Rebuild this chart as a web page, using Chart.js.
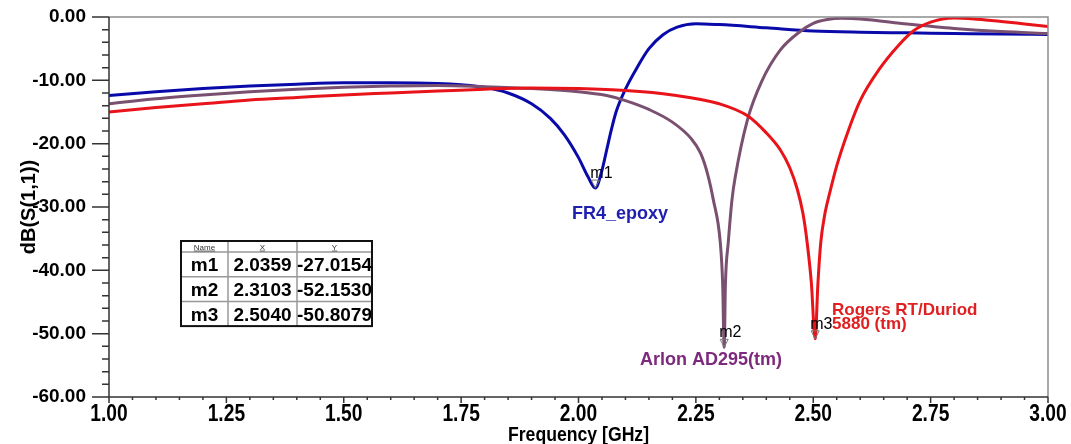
<!DOCTYPE html>
<html>
<head>
<meta charset="utf-8">
<script src="https://cdn.jsdelivr.net/npm/chart.js@4.4.0/dist/chart.umd.min.js"></script>
<style>
html,body{margin:0;padding:0;background:#fff}
</style>
</head>
<body>
<canvas id="Chart1" width="1071" height="444"></canvas>
<script>
// S11 curves
var fr4Freq = [1.00,1.10,1.20,1.30,1.40,1.50,1.60,1.70,1.75,1.80,1.85,1.90,1.94,1.97,2.00,2.02,2.0359,2.05,2.06,2.07,2.08,2.10,2.12,2.15,2.18,2.21,2.25,2.30,2.40,2.50,2.60,2.70,2.80,2.90,3.00];
var fr4DB   = [-12.4,-11.8,-11.3,-10.9,-10.6,-10.4,-10.4,-10.5,-10.7,-11.1,-12.0,-13.7,-16.0,-18.6,-22.2,-25.2,-27.0154,-24.2,-21.0,-17.8,-15.0,-11.4,-8.6,-5.0,-2.8,-1.6,-1.05,-1.2,-1.7,-2.2,-2.4,-2.5,-2.6,-2.7,-2.75];

var arlonFreq = [1.00,1.10,1.20,1.30,1.40,1.50,1.60,1.70,1.80,1.90,2.00,2.06,2.10,2.15,2.20,2.24,2.26,2.275,2.287,2.302,2.307,2.3103,2.313,2.319,2.327,2.334,2.36,2.39,2.43,2.47,2.50,2.53,2.56,2.60,2.70,2.80,2.90,3.00];
var arlonDB   = [-13.7,-12.9,-12.3,-11.8,-11.4,-11.1,-10.9,-10.8,-11.0,-11.3,-11.8,-12.4,-13.2,-14.6,-16.6,-19.2,-21.5,-24.8,-28.8,-35.6,-42.0,-52.1530,-42.0,-35.6,-28.8,-25.2,-16.2,-10.2,-5.2,-2.4,-1.0,-0.4,-0.2,-0.3,-1.1,-1.8,-2.3,-2.6];

var rogersFreq = [1.00,1.10,1.20,1.30,1.40,1.50,1.60,1.70,1.80,1.90,2.00,2.10,2.20,2.30,2.36,2.40,2.43,2.45,2.466,2.478,2.487,2.496,2.5040,2.510,2.516,2.525,2.536,2.55,2.572,2.60,2.643,2.68,2.713,2.75,2.80,2.85,2.90,2.95,3.00];
var rogersDB   = [-15.0,-14.3,-13.7,-13.1,-12.7,-12.3,-12.0,-11.7,-11.4,-11.2,-11.3,-11.6,-12.3,-13.7,-15.6,-18.3,-21.0,-23.8,-27.2,-31.0,-35.6,-42.0,-50.8079,-42.0,-35.6,-31.0,-27.5,-23.5,-18.5,-13.2,-8.0,-4.6,-2.2,-0.8,-0.15,-0.35,-0.7,-1.1,-1.5];

var markerNames = ["m1","m2","m3"];
var markerX = [2.0359, 2.3103, 2.5040];
var markerY = [-27.0154, -52.1530, -50.8079];

var xMin = 1.00, xMax = 3.00, xStep = 0.25;
var yMin = -60, yMax = 0, yStep = 10;

function pts(xs, ys){
    return xs.map(function(v,i){ return {x:v, y:ys[i]}; });
}

var arial = "'Liberation Sans', Arial, sans-serif";

// condensed text: squeeze normal Arial bold horizontally
function narrowText(ctx, txt, px, py, size, sx){
    ctx.save();
    ctx.font = 'bold ' + size + 'px ' + arial;
    ctx.translate(px, py);
    ctx.scale(sx, 1);
    ctx.fillText(txt, 0, 0);
    ctx.restore();
}

var decor = {
    id: 'decor',
    afterDraw: function(chart){
        var ctx = chart.ctx, a = chart.chartArea, x = chart.scales.x, y = chart.scales.y;
        ctx.save();
        // frame
        ctx.lineWidth = 1.5;
        ctx.strokeStyle = '#8c8c8c';
        ctx.beginPath();
        ctx.moveTo(a.left, a.top); ctx.lineTo(a.right, a.top); ctx.lineTo(a.right, a.bottom);
        ctx.stroke();
        ctx.strokeStyle = '#333';
        ctx.beginPath();
        ctx.moveTo(a.left, a.top); ctx.lineTo(a.left, a.bottom + 5);
        ctx.moveTo(a.left - 17, a.bottom); ctx.lineTo(a.right, a.bottom);
        // y ticks, minor every 2 dB
        for (var i = 0; i <= 30; i++) {
            var p = y.getPixelForValue(yMin + i * 2);
            ctx.moveTo(a.left - (i % 5 === 0 ? 17 : 7), p); ctx.lineTo(a.left, p);
        }
        // x ticks, minor every 0.05
        for (var j = 0; j <= 40; j++) {
            var px = x.getPixelForValue(xMin + j * 0.05);
            ctx.moveTo(px, a.bottom); ctx.lineTo(px, a.bottom + (j % 5 === 0 ? 6 : 3));
        }
        ctx.stroke();

        // x tick labels and title, condensed
        ctx.fillStyle = '#000';
        ctx.textAlign = 'center';
        ctx.textBaseline = 'alphabetic';
        x.ticks.forEach(function(t){
            narrowText(ctx, t.value.toFixed(2), x.getPixelForValue(t.value), a.bottom + 24, 24, 0.8);
        });
        narrowText(ctx, 'Frequency [GHz]', (a.left + a.right) / 2, 441, 21, 0.84);

        // markers
        ctx.font = '16px ' + arial;
        ctx.textAlign = 'left';
        for (var k = 0; k < markerNames.length; k++) {
            var mx = x.getPixelForValue(markerX[k]), my = y.getPixelForValue(markerY[k]);
            ctx.strokeStyle = '#777'; ctx.lineWidth = 1;
            ctx.beginPath();
            ctx.moveTo(mx, my); ctx.lineTo(mx - 4, my - 8); ctx.lineTo(mx + 4, my - 8); ctx.closePath();
            ctx.stroke();
            ctx.fillStyle = '#000';
            ctx.fillText(markerNames[k], mx - 5, my - 10);
        }

        // series labels
        ctx.font = 'bold 18px ' + arial;
        ctx.fillStyle = '#2020b0';
        ctx.fillText('FR4_epoxy', x.getPixelForValue(1.986), y.getPixelForValue(-31.9));
        ctx.fillStyle = '#7d2a7d';
        ctx.fillText('Arlon AD295(tm)', x.getPixelForValue(2.131), y.getPixelForValue(-54.9));
        ctx.font = 'bold 17px ' + arial;
        ctx.fillStyle = '#e02020';
        ctx.fillText('Rogers RT/Duriod', x.getPixelForValue(2.540), y.getPixelForValue(-47.05));
        ctx.fillText('5880 (tm)', x.getPixelForValue(2.540), y.getPixelForValue(-49.3));

        // marker table
        var tx = 181, ty = 241, cw = [47, 69, 75], hh = 11, rh = 24.7;
        var tw = cw[0] + cw[1] + cw[2], th = hh + rh * 3;
        ctx.fillStyle = '#fff';
        ctx.fillRect(tx, ty, tw, th);
        ctx.strokeStyle = '#999'; ctx.lineWidth = 1.5;
        ctx.beginPath();
        ctx.moveTo(tx + cw[0], ty); ctx.lineTo(tx + cw[0], ty + th);
        ctx.moveTo(tx + cw[0] + cw[1], ty); ctx.lineTo(tx + cw[0] + cw[1], ty + th);
        for (var r = 0; r < 3; r++) {
            ctx.moveTo(tx, ty + hh + r * rh); ctx.lineTo(tx + tw, ty + hh + r * rh);
        }
        ctx.stroke();
        ctx.strokeStyle = '#111'; ctx.lineWidth = 2;
        ctx.strokeRect(tx, ty, tw, th);

        var heads = ['Name', 'X', 'Y'];
        var cx = [tx + cw[0] / 2, tx + cw[0] + cw[1] / 2, tx + cw[0] + cw[1] + cw[2] / 2];
        ctx.textAlign = 'center';
        ctx.font = '8px ' + arial;
        ctx.fillStyle = '#333';
        ctx.strokeStyle = '#333'; ctx.lineWidth = 0.7;
        for (var h = 0; h < 3; h++) {
            ctx.fillText(heads[h], cx[h], ty + 9);
            var w = ctx.measureText(heads[h]).width;
            ctx.beginPath(); ctx.moveTo(cx[h] - w / 2, ty + 10); ctx.lineTo(cx[h] + w / 2, ty + 10); ctx.stroke();
        }
        ctx.font = 'bold 19px ' + arial;
        ctx.fillStyle = '#000';
        for (var m = 0; m < markerNames.length; m++) {
            var by = ty + hh + m * rh + rh / 2 + 7;
            ctx.fillText(markerNames[m], cx[0], by);
            ctx.fillText(markerX[m].toFixed(4), cx[1], by);
            ctx.fillText(markerY[m].toFixed(4), cx[2], by);
        }
        ctx.restore();
    }
};

var ctxL = document.getElementById("Chart1").getContext('2d');
var myLineChart = new Chart(ctxL, {
    type: 'line',
    data: {
        datasets: [{
            label: "Rogers RT/Duriod 5880 (tm)",
            data: pts(rogersFreq, rogersDB),
            borderColor: '#e8141a',
            borderWidth: 3,
            pointRadius: 0,
            cubicInterpolationMode: 'monotone'
        }, {
            label: "Arlon AD295(tm)",
            data: pts(arlonFreq, arlonDB),
            borderColor: '#7a5070',
            borderWidth: 3,
            pointRadius: 0,
            cubicInterpolationMode: 'monotone'
        }, {
            label: "FR4_epoxy",
            data: pts(fr4Freq, fr4DB),
            borderColor: '#0a0aaa',
            borderWidth: 3,
            pointRadius: 0,
            cubicInterpolationMode: 'monotone'
        }]
    },
    options: {
        responsive: false,
        animation: false,
        devicePixelRatio: 1,
        layout: { padding: { top: 17, right: 23, left: 0, bottom: 0 } },
        plugins: { legend: { display: false }, tooltip: { enabled: false } },
        scales: {
            x: {
                type: 'linear', min: xMin, max: xMax,
                ticks: { stepSize: xStep, display: false },
                grid: { display: false, drawTicks: false },
                border: { display: false },
                afterFit: function(s){ s.height = 47; s.paddingLeft = 0; s.paddingRight = 0; }
            },
            y: {
                type: 'linear', min: yMin, max: yMax,
                ticks: {
                    stepSize: yStep, autoSkip: false, padding: 23, color: '#000',
                    font: { family: arial, weight: 'bold', size: 19 },
                    callback: function(v){ return v.toFixed(2); }
                },
                grid: { display: false, drawTicks: false },
                border: { display: false },
                title: {
                    display: true, text: 'dB(S(1,1))', color: '#000',
                    font: { family: arial, weight: 'bold', size: 20, lineHeight: 1.2 },
                    padding: { top: 17, bottom: 0 }
                },
                afterFit: function(s){ s.width = 109; s.paddingTop = 0; s.paddingBottom = 0; }
            }
        }
    },
    plugins: [decor]
});
</script>
</body>
</html>
